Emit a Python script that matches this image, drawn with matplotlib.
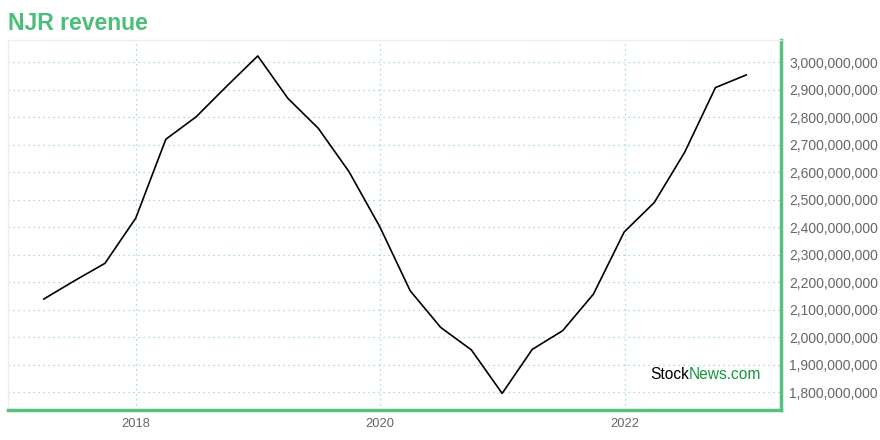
import matplotlib
matplotlib.use('Agg')
import matplotlib.pyplot as plt
import matplotlib.dates as mdates
from matplotlib.ticker import FuncFormatter, FixedLocator
import pandas as pd

plt.rcParams['font.family'] = ['Liberation Sans', 'DejaVu Sans']

# quarterly revenue
quarters = pd.date_range('2017-03-31', '2022-12-31', freq='QE')
revenue = [2139e6, 2205e6, 2269e6, 2433e6, 2720e6, 2802e6, 2914e6, 3023e6,
           2869e6, 2760e6, 2602e6, 2402e6, 2169e6, 2036e6, 1954e6, 1796e6,
           1956e6, 2024e6, 2157e6, 2383e6, 2490e6, 2673e6, 2908e6, 2954e6]

year_ticks = pd.to_datetime(['2018-01-01', '2020-01-01', '2022-01-01'])
year_labels = ['2018', '2020', '2022']
y_ticks = [1.8e9 + i * 1e8 for i in range(13)]

green = '#55c185'
grid_green = '#8fd9b0'

fig = plt.figure(figsize=(8.8, 4.4), dpi=100)
ax = fig.add_axes([8 / 880, 30 / 440, 773 / 880, 370 / 440])

ax.plot(quarters, revenue, color='black', linewidth=1.2)

ax.set_xlim(pd.Timestamp('2016-12-14'), pd.Timestamp('2023-04-14'))
ax.set_ylim(1.7356e9, 3.081e9)

ax.xaxis.set_major_locator(FixedLocator(mdates.date2num(year_ticks)))
ax.set_xticklabels(year_labels)
ax.set_yticks(y_ticks)
ax.yaxis.set_major_formatter(FuncFormatter(lambda v, p: f'{v:,.0f}'))
ax.yaxis.tick_right()

ax.tick_params(axis='both', length=0, labelcolor='#666666')
ax.tick_params(axis='y', pad=6, labelsize=10)
ax.tick_params(axis='x', pad=6, labelsize=9.3)

ax.grid(True, color=grid_green, linestyle=(0, (1, 3)), linewidth=0.9)
ax.set_axisbelow(True)

for side in ['top', 'left']:
    ax.spines[side].set_color('#eeeeee')
    ax.spines[side].set_linewidth(1)
for side in ['right', 'bottom']:
    ax.spines[side].set_color(green)
    ax.spines[side].set_linewidth(2.5)

fig.text(8 / 880, 1 - 30 / 440, 'NJR revenue', fontsize=16.6, fontweight='bold',
         color='#4dbd7a', ha='left', va='baseline')

# watermark
t1 = fig.text(650 / 880, 1 - 379 / 440, 'Stock', fontsize=11.2, color='black',
              ha='left', va='baseline')
fig.canvas.draw()
bb = t1.get_window_extent(renderer=fig.canvas.get_renderer())
fig.text(bb.x1 / 880, 1 - 379 / 440, 'News.com', fontsize=11.2, color='#16973f',
         ha='left', va='baseline')

fig.savefig('out.png', dpi=100)
